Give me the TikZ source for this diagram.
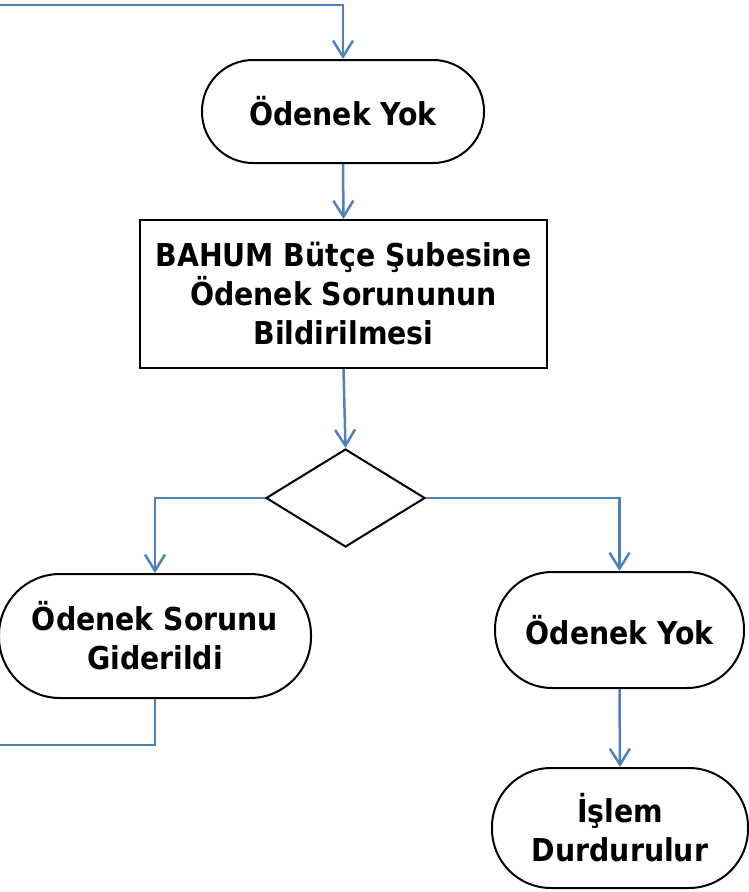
\documentclass[tikz,border=0pt]{standalone}
\usepackage{fontspec}
\setmainfont{DejaVu Sans Condensed}
\usetikzlibrary{arrows.meta,shapes.geometric}
\definecolor{conblue}{RGB}{79,129,189}
\begin{document}
\begin{tikzpicture}[x=1pt,y=-1pt,
  txt/.style={font=\fontsize{31.5}{39}\selectfont\bfseries, align=center, inner sep=0pt},
  term/.style={txt, draw=black, line width=2pt, rectangle},
  boxnode/.style={txt, draw=black, line width=2pt, rectangle},
  dia/.style={draw=black, line width=2pt, diamond, inner sep=0pt},
  conn/.style={draw=conblue, line width=2.5pt, -{Straight Barb[length=16pt,width=20pt,line width=2.5pt]}},
  plain/.style={draw=conblue, line width=2.5pt}]
\useasboundingbox (0,0) rectangle (749,892);
\node[term, minimum width=282pt, minimum height=103pt, rounded corners=51pt] (t1) at (343,111.5) {Ödenek Yok};
\node[boxnode, minimum width=407pt, minimum height=148pt] (bx) at (343.5,294) {BAHUM Bütçe Şubesine\\Ödenek Sorununun\\Bildirilmesi};
\node[dia, minimum width=159pt, minimum height=98pt] (d) at (345.5,498) {};
\node[term, minimum width=312pt, minimum height=124pt, rounded corners=61pt] (lt) at (155,636) {Ödenek Sorunu\\Giderildi};
\node[term, minimum width=249pt, minimum height=116pt, rounded corners=57pt] (rt) at (619.5,630) {Ödenek Yok};
\node[term, minimum width=256pt, minimum height=120pt, rounded corners=59pt] (bt) at (620,828) {İşlem\\Durdurulur};
\coordinate (s1) at (0,5);
\coordinate (e1) at (0,745);
\draw[conn] (s1) -| (t1.north);
\draw[conn] (t1.south) -- (bx.north);
\draw[conn] (bx.south) -- (d.north);
\draw[conn] (d.west) -| (lt.north);
\draw[conn] (d.east) -| (rt.north);
\draw[plain] (lt.south) |- (e1);
\draw[conn] (rt.south) -- (bt.north);
\end{tikzpicture}
\end{document}
